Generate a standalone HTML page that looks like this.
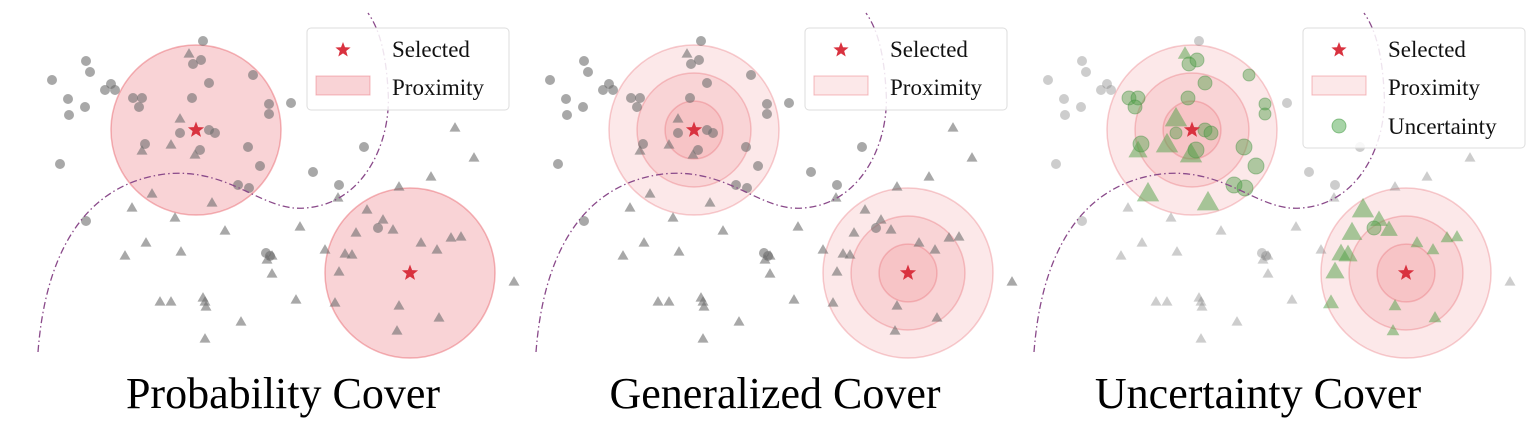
<!DOCTYPE html>
<html><head><meta charset="utf-8"><style>
html,body{margin:0;padding:0;background:#fff;}
svg{display:block;}
text{font-family:"Liberation Serif",serif;}
</style></head><body>
<svg id="fig" width="1529" height="430" viewBox="0 0 1529 430" xmlns="http://www.w3.org/2000/svg"></svg>
<script>
// circle-class points [x, y] in panel coordinates
const circX = [203,86,90,52,111,105,115,68,85,69,193,201,253,209,133,142,139,192,269,269,291,209,215,180,145,200,248,60,260,364,313,339,238,249,86,378,266,270];
const circY = [41,61,72,80,84,90,90,99,107,115,64,60,75,83,98,98,107,98,104,114,103,130,133,133,144,150,147,164,166,147,172,185,185,188,221,228,253,256];
// uncertainty marker size for panel 3 (0 = not uncertain)
const circU = [0,0,0,0,0,0,0,0,0,0,7,7,6,7,7,7,7,7,6,6,0,7,7,6,8,8,8,0,8,0,0,0,8,8,0,7,0,0];
const triX = [189,180,171,142,195,152,132,212,175,225,300,146,125,181,272,267,272,325,345,339,367,383,393,356,352,421,437,461,451,455,474,431,399,338,171,160,203,205,206,296,241,205,335,399,439,397,514];
const triY = [54,119,145,151,155,194,208,203,218,231,227,243,256,252,256,260,274,250,254,272,210,220,230,233,255,243,250,237,238,128,158,177,187,198,302,302,298,302,307,300,322,339,303,306,318,331,282];
const triU = [9,14,14,12,14,14,0,14,0,0,0,0,0,0,0,0,0,0,12,12,14,11,11,13,12,8,8,8,8,0,0,0,0,0,0,0,0,0,0,0,0,0,10,8,8,8,0];
const stars = [[196,130],[410,273]];
const offsets = [0,498,996];
const titles = ["Probability Cover","Generalized Cover","Uncertainty Cover"];
const radius = 85;

const NS="http://www.w3.org/2000/svg";
const svg=document.getElementById('fig');
function mk(tag,attrs,parent){const e=document.createElementNS(NS,tag);for(const k in attrs)e.setAttribute(k,attrs[k]);(parent||svg).appendChild(e);return e;}
function starPath(cx,cy,R){let r=R*0.42,p='';for(let i=0;i<10;i++){const a=-Math.PI/2+i*Math.PI/5,rr=i%2?r:R;p+=(i?'L':'M')+(cx+rr*Math.cos(a)).toFixed(1)+','+(cy+rr*Math.sin(a)).toFixed(1);}return p+'Z';}
function triPath(cx,cy,s){const h=s*0.87;return `M${cx},${cy-h*0.62}L${cx+s/2},${cy+h*0.38}L${cx-s/2},${cy+h*0.38}Z`;}

offsets.forEach((ox,pi)=>{
  const g=mk('g',{transform:`translate(${ox},0)`});
  
  
  // proximity circles
  stars.forEach((s,si)=>{
    if(pi===0){
      const c=mk('circle',{cx:s[0],cy:s[1],r:radius,fill:'rgba(235,110,120,0.3)',stroke:'rgba(230,90,100,0.45)','stroke-width':1.5},g);
      
      
    } else {
      [1,0.67,0.34].forEach(f=>{
        const c=mk('circle',{cx:s[0],cy:s[1],r:radius*f,fill:'rgba(235,110,120,0.16)',stroke:'rgba(230,90,100,0.3)','stroke-width':1.5},g);
        
        
      });
    }
  });
  const gray = pi===2 ? 'rgba(130,130,130,0.4)' : 'rgba(110,110,110,0.6)';
  circX.forEach((x,i)=>{
    const u = pi===2 ? circU[i] : 0;
    const c=mk('circle',{cx:x,cy:circY[i],r:u?u:5,fill:u?'rgba(80,160,70,0.45)':gray,stroke:u?'rgba(60,140,60,0.4)':'none'},g);
    
    
  });
  triX.forEach((x,i)=>{
    const u = pi===2 ? triU[i] : 0;
    const t=mk('path',{d:triPath(x,triY[i],u?u*1.6:11),fill:u?'rgba(80,160,70,0.5)':gray},g);
    
    
  });
  // boundary curve
  const b=mk('path',{d:'M38,352 C45,260 80,185 165,174 C230,167 262,212 305,208 C365,204 392,140 388,90 C386,55 380,30 368,13',fill:'none',stroke:'#8a4a8a','stroke-width':1.3,'stroke-dasharray':'7,3,1.5,3'},g);
  
  
  stars.forEach(s=>{
    const st=mk('path',{d:starPath(s[0],s[1],8.5),fill:'#d9323f'},g);
    
    
  });
  // legend
  const lh = pi===2?120:82;
  const lg=mk('g',{},g);
  
  
  mk('rect',{x:307,y:28,width:pi===2?222:202,height:lh,rx:4,fill:'rgba(255,255,255,0.85)',stroke:'#ddd','stroke-width':1},lg);
  mk('path',{d:starPath(343,50,8),fill:'#d9323f'},lg);
  const t1=mk('text',{x:392,y:57,'font-size':23,fill:'#111'},lg);t1.textContent='Selected';
  mk('rect',{x:316,y:76,width:54,height:19,fill:pi===0?'rgba(235,110,120,0.3)':'rgba(235,110,120,0.16)',stroke:'rgba(230,90,100,0.4)'},lg);
  const t2=mk('text',{x:392,y:95,'font-size':23,fill:'#111'},lg);t2.textContent='Proximity';
  if(pi===2){
    mk('circle',{cx:300+43,cy:126,r:7,fill:'rgba(80,170,80,0.5)',stroke:'rgba(60,150,60,0.5)'},lg);
    const t3=mk('text',{x:392,y:134,'font-size':23,fill:'#111'},lg);t3.textContent='Uncertainty';
  }
  const tt=mk('text',{x:[283,277,262][pi],y:408,'font-size':44,'text-anchor':'middle',fill:'#000'},g);
  tt.textContent=titles[pi];
  
  
});
</script>
</body></html>
